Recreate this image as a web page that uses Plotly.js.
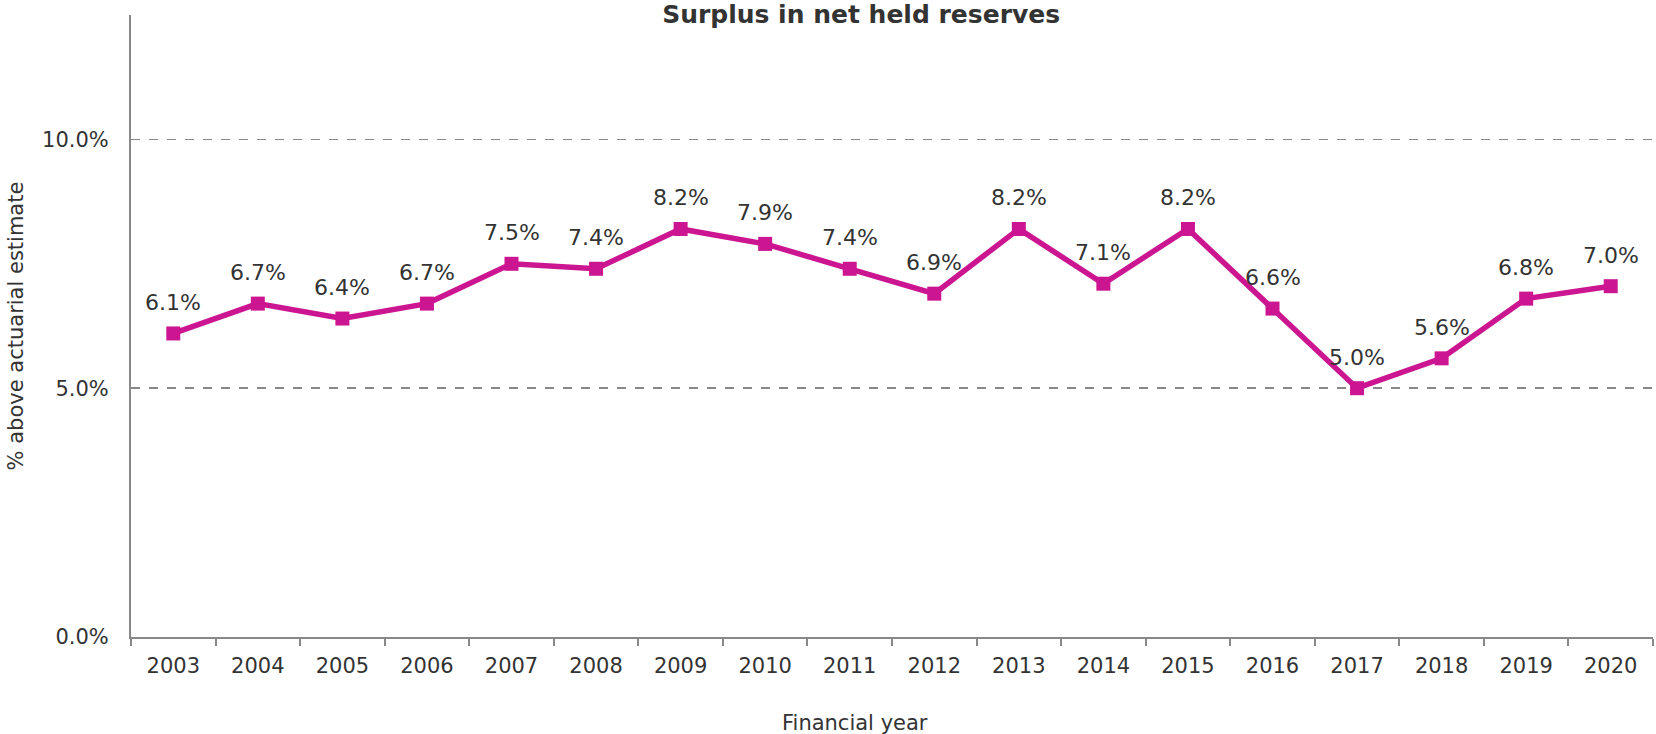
<!DOCTYPE html>
<html>
<head>
<meta charset="utf-8">
<script src="https://cdn.plot.ly/plotly-3.0.1.min.js"></script>
<style>html,body{margin:0;padding:0;background:#fff;}#chart{width:1656px;height:734px;}</style>
</head>
<body>
<div id="chart"></div>
<script>
const years = ["2003","2004","2005","2006","2007","2008","2009","2010","2011","2012","2013","2014","2015","2016","2017","2018","2019","2020"];
const surplus = [6.1, 6.7, 6.4, 6.7, 7.5, 7.4, 8.2, 7.9, 7.4, 6.9, 8.2, 7.1, 8.2, 6.6, 5.0, 5.6, 6.8, 7.05];
const yTickVals = [0, 5, 10];
const yTickText = ["0.0%", "5.0%", "10.0%"];

const font = "Verdana, 'DejaVu Sans', sans-serif";
const txt = "#333333";
const magenta = "#CC1590";

const trace = {
  type: "scatter",
  mode: "lines+markers",
  x: years,
  y: surplus,
  line: {color: magenta, width: 5.5},
  marker: {symbol: "square", size: 14, color: magenta},
  cliponaxis: false,
  hoverinfo: "none"
};

const labels = years.map((yr, i) => ({
  x: i, y: surplus[i], xref: "x", yref: "y",
  text: surplus[i].toFixed(1) + "%",
  showarrow: false, yanchor: "middle", xanchor: "center", yshift: 31,
  font: {family: font, size: 22, color: txt}
}));
labels.push({
  text: "Financial year", xref: "paper", yref: "paper", x: 0.476, y: -0.138,
  xanchor: "center", yanchor: "middle", showarrow: false,
  font: {family: font, size: 21, color: txt}
});

const layout = {
  width: 1656, height: 734,
  margin: {l: 131, r: 3, t: 15, b: 97},
  paper_bgcolor: "#ffffff", plot_bgcolor: "#ffffff",
  showlegend: false,
  font: {family: font, color: txt, size: 21},
  title: {text: "<b>Surplus in net held reserves</b>", x: 0.52, xref: "container", xanchor: "center", y: 0.98, yref: "container", yanchor: "middle", font: {family: font, size: 25, color: txt}},
  annotations: labels,
  xaxis: {
    type: "category",
    range: [-0.5, years.length - 0.5],
    autorange: false,
    tickangle: 0,
    showline: true, linecolor: "#888888", linewidth: 2,
    ticks: "outside", tickson: "boundaries", ticklen: 7, tickcolor: "#888888", tickwidth: 2,
    ticklabelstandoff: 9,
    showgrid: false, zeroline: false,
    tickfont: {family: font, size: 21, color: txt}
  },
  yaxis: {
    range: [0, 12.5],
    autorange: false,
    tickvals: yTickVals, ticktext: yTickText,
    showline: true, linecolor: "#888888", linewidth: 2,
    ticks: "", ticklabelstandoff: 16,
    showgrid: true, gridcolor: "#888888", griddash: "dash", gridwidth: 1.5,
    zeroline: false,
    tickfont: {family: font, size: 21, color: txt},
    title: {text: "% above actuarial estimate", font: {family: font, size: 21, color: txt}, standoff: 13}
  }
};
Plotly.newPlot("chart", [trace], layout, {staticPlot: true, displayModeBar: false});
</script>
</body>
</html>
